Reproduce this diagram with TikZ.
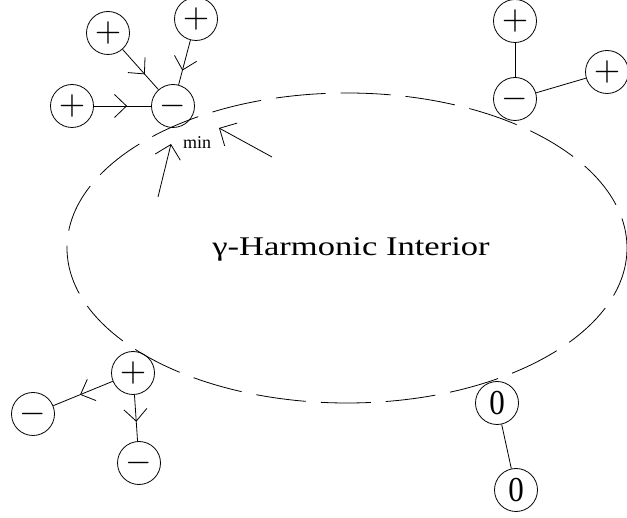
\documentclass[tikz,border=0pt]{standalone}
\usepackage{fontspec}
\setmainfont{Liberation Serif}
\usetikzlibrary{arrows.meta,decorations.markings}
\newcommand{\chgsym}[1]{\scalebox{3.4}{$#1$}}
\tikzset{
  chg/.style={circle, draw, line width=0.8pt, minimum size=43pt, inner sep=0pt},
  link/.style={line width=0.8pt},
  midarrow/.style={link, postaction={decorate}, decoration={markings,
    mark=at position #1 with {\arrow{Straight Barb[length=12pt,width=23pt,line width=0.8pt]}}}},
  minarrow/.style={line width=0.8pt, -{Straight Barb[length=13pt,width=26pt,line width=0.8pt]}},
  bound/.style={line width=0.8pt, dash pattern=on 50pt off 15pt}
}
\begin{document}
\begin{tikzpicture}[x=1pt,y=-1pt]
\useasboundingbox (0,0) rectangle (627,518);
% boundary of the interior
\draw[bound] (347,248) ellipse [x radius=280, y radius=155];
\node[anchor=base, font=\fontsize{27}{27}\selectfont] (title) at (351,256)
  {\scalebox{1.28}[1]{γ-Harmonic Interior}};
% top-left cluster
\node[chg] (A) at (108,33) {\chgsym{+}};
\node[chg] (B) at (196,19) {\chgsym{+}};
\node[chg] (C) at (72,106) {\chgsym{+}};
\node[chg] (D) at (173,106) {\chgsym{-}};
\draw[midarrow=0.62] (A) -- (D);
\draw[midarrow=0.68] (B) -- (D);
\draw[midarrow=0.58] (C) -- (D);
% min label and arrows
\node[anchor=base, font=\fontsize{18}{18}\selectfont] (min) at (197,149) {min};
\coordinate (m1s) at (272,157);
\coordinate (m1e) at (219,128);
\coordinate (m2s) at (158,197);
\coordinate (m2e) at (171,144);
\draw[minarrow] (m1s) -- (m1e);
\draw[minarrow] (m2s) -- (m2e);
% top-right cluster
\node[chg] (E) at (515,21) {\chgsym{+}};
\node[chg] (F) at (515,99) {\chgsym{-}};
\node[chg] (G) at (607,72) {\chgsym{+}};
\draw[link] (E) -- (F);
\draw[link] (F) -- (G);
% bottom-left cluster
\node[chg] (H) at (133,373) {\chgsym{+}};
\node[chg] (I) at (33,414) {\chgsym{-}};
\node[chg] (J) at (139,463) {\chgsym{-}};
\draw[midarrow=0.55] (H) -- (I);
\draw[midarrow=0.58] (H) -- (J);
% bottom-right cluster
\node[chg] (K) at (497,403) {\scalebox{3.1}[3.5]{0}};
\node[chg] (L) at (516,490) {\scalebox{3.1}[3.5]{0}};
\draw[link] (K) -- (L);
\end{tikzpicture}
\end{document}
